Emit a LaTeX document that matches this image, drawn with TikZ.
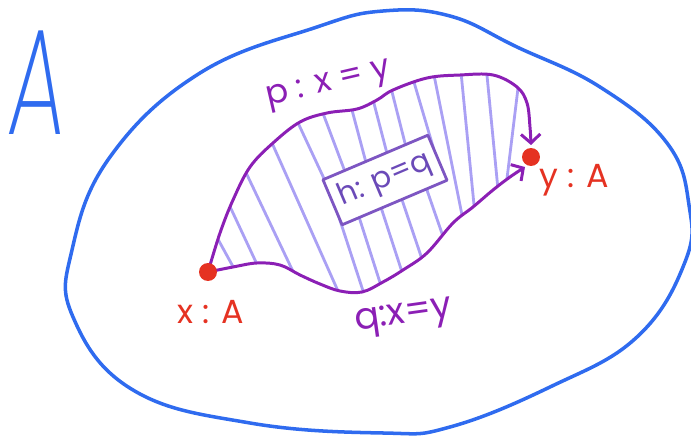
\documentclass[tikz,border=0pt]{standalone}
\usepackage{fontspec}
\setmainfont{Poppins}
\IfFontExistsTF{Poppins ExtraLight}{\newfontfamily\bigAfont{Poppins ExtraLight}}{%
  \IfFontExistsTF{Poppins Light}{\newfontfamily\bigAfont{Poppins Light}}{\newfontfamily\bigAfont{Poppins}}}
\usetikzlibrary{arrows.meta}
\definecolor{blueE}{HTML}{2F6BEF}
\definecolor{redE}{HTML}{E53222}
\definecolor{purpleE}{HTML}{8B1FB5}
\definecolor{hatchE}{HTML}{AAA0F4}
\definecolor{boxE}{HTML}{7D56C2}
\definecolor{htextE}{HTML}{6B4AB8}
\begin{document}
\begin{tikzpicture}[x=0.02cm,y=-0.02cm, line cap=round, line join=round,
  blueline/.style={draw=blueE, line width=2pt},
  pathline/.style={draw=purpleE, line width=1.7pt},
  hatch/.style={draw=hatchE, line width=1.6pt},
  dot/.style={circle, fill=redE, inner sep=0pt, minimum size=0.36cm},
  lbl/.style={font=\fontsize{19}{23}\selectfont, inner sep=0pt},
  hbox/.style={draw=boxE, fill=white, line width=1.6pt, text=htextE,
    minimum width=2.28cm, minimum height=0.98cm, inner sep=0pt,
    font=\fontsize{17}{20}\selectfont},
  tip/.style={-{Straight Barb[length=5pt,width=11pt,line width=1.7pt]}}]
\useasboundingbox (0,0) rectangle (691,439);

% outer type A
\draw[blueline] plot[smooth cycle, tension=0.7] coordinates {(450,16) (517,47) (600,87) (667,143) (689,205) (685,262) (637,337) (550,387) (450,427) (383,433) (250,423) (133,390) (73,317) (72,250) (110,157) (200,73) (317,27) (383,11)};
\node[font=\bigAfont\fontsize{86}{90}\selectfont, text=blueE, inner sep=0pt, xscale=0.6, xslant=0.1] (Alab) at (38,83) {A};

% points
\coordinate (x) at (208,272);
\coordinate (y) at (531,157);

% hatching
\begin{scope}
\clip plot[smooth, tension=0.6] coordinates {(208,270) (220,233) (233,200) (250,167) (273,143) (300,122) (327,113) (357,109) (377,100) (393,90) (427,78) (460,75) (493,75) (517,87) (527,103) (530,127) (531,145)}
  -- plot[smooth, tension=0.6] coordinates {(525,167) (510,177) (493,190) (473,207) (453,223) (427,253) (403,270) (383,282) (362,292) (340,291) (320,284) (300,275) (280,265) (257,263) (233,267) (208,272)} -- cycle;
\foreach \a/\b in {
  {(214,232)}/{(236,272)}, {(226,198)}/{(262,275)}, {(240,160)}/{(298,282)}, {(264,125)}/{(342,300)},
  {(432,65)}/{(465,230)}, {(460,62)}/{(475,215)}, {(486,65)}/{(499,200)}, {(519,80)}/{(505,195)},
  {(292,110)}/{(327,185)}, {(318,100)}/{(350,185)}, {(348,95)}/{(368,170)}, {(370,88)}/{(390,165)},
  {(389,80)}/{(408,155)}, {(411,72)}/{(434,150)},
  {(335,205)}/{(366,300)}, {(352,195)}/{(384,295)}, {(377,195)}/{(402,272)}, {(397,185)}/{(423,262)}, {(420,170)}/{(446,245)}}
  \draw[hatch] \a -- \b;
\end{scope}

% homotopy box
\node[hbox, rotate=23] (h) at (385,180) {h: p=q};

% paths
\draw[pathline, tip] plot[smooth, tension=0.6] coordinates {(x) (220,233) (233,200) (250,167) (273,143) (300,122) (327,113) (357,109) (377,100) (393,90) (427,78) (460,75) (493,75) (517,87) (527,103) (530,127) (531,145)};
\draw[pathline, tip] plot[smooth, tension=0.6] coordinates {(x) (233,267) (257,263) (280,265) (300,275) (320,284) (340,291) (362,292) (383,282) (403,270) (427,253) (453,223) (473,207) (493,190) (510,177) (525,167)};

% dots
\node[dot] (xd) at (x) {};
\node[dot] (yd) at (y) {};

% labels
\node[lbl, text=purpleE, rotate=13] (plab) at (329,86) {p : x = y};
\node[lbl, text=purpleE, rotate=8, font=\fontsize{21}{25}\selectfont] (qlab) at (404,318) {q:x=y};
\node[lbl, text=redE, anchor=base] (xlab) at (211,324) {x : A};
\node[lbl, text=redE, anchor=base] (ylab) at (574,188) {y : A};
\end{tikzpicture}
\end{document}
